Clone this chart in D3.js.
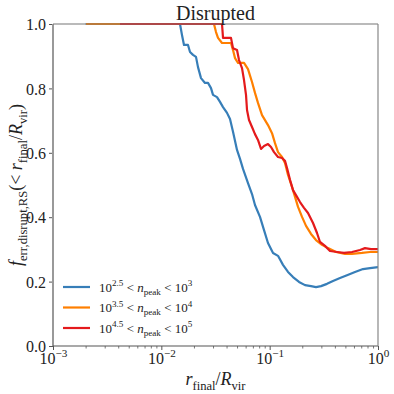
<!DOCTYPE html>
<html>
<head>
<meta charset="utf-8">
<script src="https://cdn.jsdelivr.net/npm/d3@7"></script>
<style>
  body { margin: 0; background: #fff; }
  svg, svg text { font-family: "Liberation Serif", "DejaVu Serif", serif !important; }
  .curve { fill: none; stroke-width: 2.2; stroke-linejoin: round; }
</style>
</head>
<body>
<script>
// r_final / R_vir values and cumulative fraction
let blueR = [0.002, 0.01487, 0.01551, 0.01619, 0.01763, 0.0184, 0.0196, 0.02089, 0.0218, 0.02324, 0.0253, 0.02697,
    0.02874, 0.02999, 0.03265, 0.0348, 0.0371, 0.04039, 0.04305, 0.04588, 0.04995, 0.05324, 0.05675, 0.0631,
    0.0687, 0.0732, 0.0814, 0.0887, 0.0965, 0.1074, 0.1194, 0.1327, 0.1477, 0.1642, 0.1866, 0.212, 0.2408,
    0.2677, 0.2978, 0.3383, 0.3843, 0.446, 0.5175, 0.6135, 0.7272, 0.8438, 1.0];
let blueF = [1.0, 1.0, 0.966, 0.935, 0.935, 0.913, 0.904, 0.898, 0.866, 0.832, 0.817, 0.817,
    0.801, 0.780, 0.773, 0.758, 0.742, 0.724, 0.705, 0.665, 0.609, 0.581, 0.550, 0.506,
    0.472, 0.438, 0.401, 0.360, 0.320, 0.289, 0.280, 0.252, 0.230, 0.214, 0.199, 0.189, 0.186,
    0.183, 0.186, 0.193, 0.202, 0.211, 0.220, 0.230, 0.239, 0.242, 0.245];

let orangeR = [0.002016, 0.03063, 0.03196, 0.03335, 0.03632, 0.04396, 0.04588, 0.04788, 0.05103, 0.05797, 0.0631,
    0.0687, 0.0732, 0.078, 0.085, 0.0965, 0.1051, 0.112, 0.1194, 0.13, 0.1385, 0.1477, 0.1608, 0.1714, 0.1827,
    0.1989, 0.2166, 0.2408, 0.2677, 0.3041, 0.3456, 0.4098, 0.496, 0.5755, 0.7119, 0.8438, 1.0];
let orangeF = [1.0, 1.0, 0.975, 0.957, 0.941, 0.941, 0.919, 0.894, 0.879, 0.879, 0.860,
    0.820, 0.786, 0.755, 0.717, 0.686, 0.661, 0.630, 0.602, 0.587, 0.568, 0.531, 0.494, 0.463, 0.432,
    0.401, 0.373, 0.348, 0.329, 0.314, 0.304, 0.292, 0.286, 0.286, 0.289, 0.292, 0.292];

let redR = [0.004154, 0.03632, 0.0371, 0.04396, 0.04588, 0.04995, 0.05212, 0.05555, 0.05797, 0.06048, 0.06178,
    0.06446, 0.0687, 0.0732, 0.078, 0.0832, 0.0887, 0.0965, 0.1029, 0.1097, 0.1194, 0.13, 0.1385, 0.1446,
    0.1541, 0.1642, 0.1788, 0.1906, 0.2075, 0.2259, 0.2513, 0.2735, 0.2915, 0.3241, 0.3606, 0.4183, 0.4856,
    0.5755, 0.6823, 0.7587, 0.8619, 1.0];
let redF = [1.0, 1.0, 0.957, 0.957, 0.925, 0.919, 0.888, 0.863, 0.826, 0.780, 0.733,
    0.702, 0.680, 0.658, 0.640, 0.612, 0.621, 0.627, 0.618, 0.602, 0.587, 0.584, 0.575, 0.553,
    0.516, 0.484, 0.463, 0.447, 0.429, 0.413, 0.382, 0.351, 0.323, 0.311, 0.295, 0.292, 0.289,
    0.292, 0.298, 0.304, 0.301, 0.301];

let seriesColors = ["#377eb8", "#ff7f00", "#e41a1c"];
// legend label pieces: [low exponent, high exponent]
let legendLo = ["2.5", "3.5", "4.5"];
let legendHi = ["3", "4", "5"];

let xMajor = [1e-3, 1e-2, 1e-1, 1];
let xMajorExp = ["\u22123", "\u22122", "\u22121", "0"];
let yTicks = [0, 0.2, 0.4, 0.6, 0.8, 1.0];

let margin = {top: 24, right: 16, bottom: 48, left: 53}
    , width = 394 - margin.left - margin.right
    , height = 394 - margin.top - margin.bottom;

let svg = d3.select("body").append("svg")
    .attr("width", 394)
    .attr("height", 394);

let g = svg.append("g")
    .attr("transform", "translate(" + margin.left + "," + margin.top + ")");

let xScale = d3.scaleLog().domain([1e-3, 1]).range([0, width]);
let yScale = d3.scaleLinear().domain([0, 1]).range([height, 0]);

// writes math-ish text made of pieces {t, k: 'sup'|'sub', it: italic}
let rich = (sel, parts, size) => {
    let shift = 0;
    parts.forEach(p => {
        let target = p.k == 'sup' ? -0.42 * size : p.k == 'sub' ? 0.25 * size : 0;
        let ts = sel.append("tspan")
            .attr("dy", target - shift)
            .attr("font-size", p.k ? size * 0.7 : size)
            .text(p.t);
        if (p.it) ts.attr("font-style", "italic");
        shift = target;
    });
};

// minor ticks on x
let minors = [];
[1e-3, 1e-2, 1e-1].forEach(d => { for (let k = 2; k < 10; k++) minors.push(d * k); });
g.append("g")
    .attr("transform", "translate(0," + height + ")")
    .call(d3.axisBottom(xScale).tickValues(minors).tickSize(2.5).tickFormat(""))
    .call(a => a.select(".domain").remove())
    .selectAll("line").attr("stroke", "#555").attr("stroke-width", 0.8);

let xAxis = g.append("g")
    .attr("transform", "translate(0," + height + ")")
    .call(d3.axisBottom(xScale).tickValues(xMajor).tickSize(4).tickFormat(""));
xAxis.select(".domain").remove();
xAxis.selectAll("line").attr("stroke", "#555").attr("stroke-width", 1);
xAxis.selectAll(".tick").each(function(d, i) {
    let t = d3.select(this).append("text")
        .attr("y", 18)
        .attr("fill", "#222")
        .attr("text-anchor", "middle")
        .attr("font-size", 16);
    rich(t, [{t: "10"}, {t: xMajorExp[i], k: 'sup'}], 16);
});

let yAxis = g.append("g")
    .call(d3.axisLeft(yScale).tickValues(yTicks).tickSize(4).tickPadding(3).tickFormat(d3.format(".1f")));
yAxis.select(".domain").remove();
yAxis.selectAll("line").attr("stroke", "#555").attr("stroke-width", 1);
yAxis.selectAll("text")
    .attr("font-size", 16)
    .attr("fill", "#222")
    .attr("dy", "0.36em");

// curves
let line = d3.line()
    .x(d => xScale(d[0]))
    .y(d => yScale(d[1]));

[[blueR, blueF], [orangeR, orangeF], [redR, redF]].forEach((s, si) => {
    g.append("path")
        .datum(s[0].map((r, i) => [r, s[1][i]]))
        .attr("class", "curve")
        .attr("stroke", seriesColors[si])
        .attr("d", line);
});

// spines
g.append("line").attr("x1", 0).attr("x2", 0).attr("y1", 0).attr("y2", height)
    .attr("stroke", "#999").attr("stroke-width", 2);
g.append("line").attr("x1", 0).attr("x2", width).attr("y1", height).attr("y2", height)
    .attr("stroke", "#555").attr("stroke-width", 1.2);
g.append("line").attr("x1", 0).attr("x2", width).attr("y1", 0).attr("y2", 0)
    .attr("stroke", "#777").attr("stroke-width", 1.2);
g.append("line").attr("x1", width).attr("x2", width).attr("y1", 0).attr("y2", height)
    .attr("stroke", "#888").attr("stroke-width", 1.2);

// legend
let legend = g.append("g").attr("transform", "translate(10," + (height - 59) + ")");
seriesColors.forEach((c, i) => {
    let row = legend.append("g").attr("transform", "translate(0," + (i * 20.5) + ")");
    row.append("line").attr("x1", 0).attr("x2", 27).attr("stroke", c).attr("stroke-width", 2.2);
    let t = row.append("text").attr("x", 36).attr("y", 4.5).attr("fill", "#222");
    rich(t, [{t: "10"}, {t: legendLo[i], k: 'sup'}, {t: " < "}, {t: "n", it: true}, {t: "peak", k: 'sub'},
        {t: " < 10"}, {t: legendHi[i], k: 'sup'}], 13);
});

// title
svg.append("text")
    .attr("x", margin.left + width / 2)
    .attr("y", 20)
    .attr("text-anchor", "middle")
    .attr("font-size", 20)
    .attr("fill", "#222")
    .text("Disrupted");

// x label
let xl = svg.append("text")
    .attr("x", margin.left + width / 2)
    .attr("y", 385)
    .attr("text-anchor", "middle")
    .attr("fill", "#222");
rich(xl, [{t: "r", it: true}, {t: "final", k: 'sub'}, {t: "/"}, {t: "R", it: true}, {t: "vir", k: 'sub'}], 18);

// y label
let yl = svg.append("text")
    .attr("transform", "translate(22," + (margin.top + height / 2) + ") rotate(-90)")
    .attr("text-anchor", "middle")
    .attr("fill", "#222");
rich(yl, [{t: "f", it: true}, {t: "err,disrupt,RS", k: 'sub'}, {t: "(< "}, {t: "r", it: true}, {t: "final", k: 'sub'},
    {t: "/"}, {t: "R", it: true}, {t: "vir", k: 'sub'}, {t: ")"}], 18);
</script>
</body>
</html>
